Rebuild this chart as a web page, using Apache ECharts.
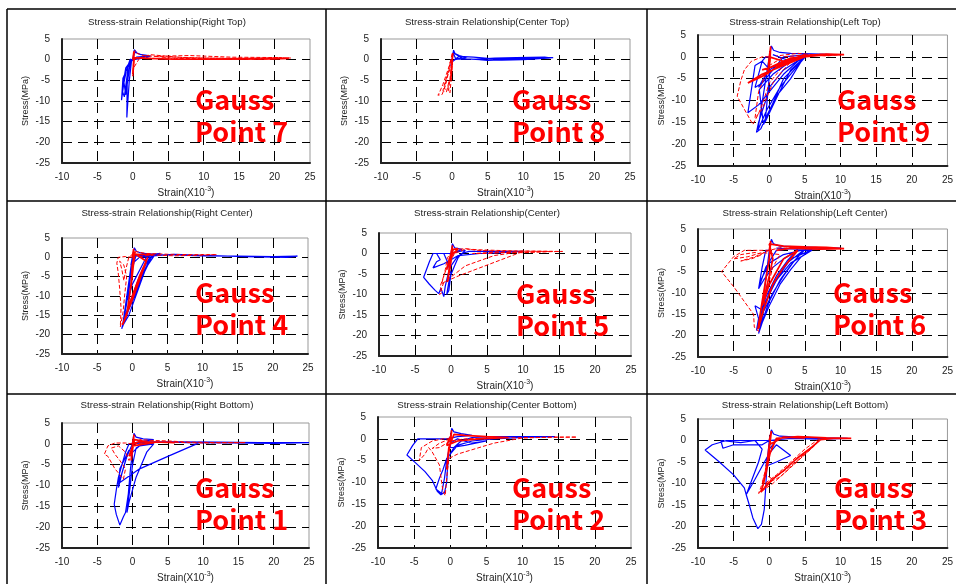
<!DOCTYPE html>
<html>
<head>
<meta charset="utf-8">
<script src="https://cdn.jsdelivr.net/npm/echarts@6/dist/echarts.min.js"></script>
<style>
  html, body { margin: 0; padding: 0; background: #fff; }
  #main { width: 956px; height: 584px; }
</style>
</head>
<body>
<div id="main"></div>
<script>
// axis ranges (strain x10^-3, stress MPa)
var strainMin = -10, strainMax = 25, strainStep = 5;
var stressMin = -25, stressMax = 5, stressStep = 5;

// Gauss point 7 - Right Top
var p7Blue = [[0,0],[0.2,2.4],[0.6,1.6],[1.2,1.2],[2,0.9],[0.8,0.5],[-0.2,0],[-1.4,-4.5],[-1.6,-9.8],[-1.3,-6],[-0.9,-2.5],[-0.4,0],[-1.1,-3.5],[-1.5,-7.5],[-1.2,-9],[-0.9,-5],[-0.6,-1],[-0.3,0.2],[-0.8,-6],[-0.85,-14],[-0.7,-10],[-0.5,-5],[-0.2,-0.5],[0.3,1.8],[1,1.3],[2.2,1],[1.5,0.6],[0,0.3],[-1,-2],[-1.3,-5],[-1,-8.5],[-0.7,-4],[-0.3,-0.5],[0.5,0.6],[2.5,0.9],[1.8,0.4],[0,0]];
var p7Red = [[0,0],[0.3,2.2],[0.6,1.5],[1.5,1],[4,0.7],[10,0.4],[16,0.3],[20,0.3],[22,0.4],[18,0.1],[12,0.2],[6,0.3],[3,0.8],[8,1],[14,0.6],[21,0.5],[15,0.2],[9,0.1],[4,0.2],[1,0.5],[0.1,-2],[0,-4],[0.1,0],[2.5,1.2],[7,0.5],[13,0.3],[19,0.4],[22.3,0.4]];
var p7RedSolid = [[0,0],[0.15,2],[0.1,-1],[0,-3.5],[0.2,0.5],[2,0.3],[6,0.1],[12,0.1],[20,0.2],[22,0.3]];

// Gauss point 8 - Center Top
var p8Blue = [[0,0],[0.2,2.3],[0.4,1.5],[1,1],[2,0.5],[0.5,0.2],[0.1,1.8],[0.6,1.2],[1.5,0.3],[0.3,0],[1,0.8],[3,0.6],[5,0.3],[7,0.2],[10,0.3],[14.2,0.5],[11,0.2],[7.5,0],[5,-0.2],[3,0.1],[6,0.4],[9,0.5],[13,0.6],[14,0.4],[10,0],[7,-0.1],[4,0],[2,0.2],[0.5,0.1],[0,-0.5],[-0.2,-1.5],[0,0]];
var p8Red = [[0,1.5],[-0.3,-1],[-0.8,-3.5],[-1.3,-6],[-1.8,-8],[-2,-8.6],[-1.4,-8.4],[-0.9,-6],[-0.5,-3],[-0.2,0],[-0.5,-2.5],[-1,-5.5],[-1.3,-7.5],[-0.8,-7.8],[-0.4,-5],[-0.6,-7],[-0.3,-8],[-0.1,-4],[0,-1],[-0.7,-4],[-1.1,-7],[-0.5,-7.5],[0,0]];
var p8RedSolid = [[0,0],[0.1,1.6],[-0.1,-2],[-0.2,-5],[0,-1],[0.05,1]];

// Gauss point 9 - Left Top
var p9Blue = [[0,0],[0.3,2.5],[0.6,1.5],[1.5,1],[3,0.8],[6,0.7],[9,0.5],[5,0.2],[2,-1],[0,-3],[-1,-5.5],[-1.5,-7],[-0.5,-5],[1,-2],[3,-0.5],[5,0.2],[2,-3],[0,-7],[-0.5,-10],[-1.5,-15],[-1.8,-17.3],[-1.2,-16.5],[-0.5,-14],[1,-9],[3,-5],[4.5,-1],[5,0],[3,-3],[1,-9.5],[-0.6,-15],[-0.4,-12],[-0.2,-8],[0.1,-3],[-1,-1],[-2,-2],[-3,-12.8],[-1.5,-11],[0,-8],[2,-4],[4,-1],[5.5,0.5],[2,0],[-1,-6],[-2,-7],[-1.5,-4],[-1,-1],[-0.5,0],[0,0],[-1.6,-16.8],[-0.3,-12],[1.5,-7],[3.5,-3],[5.2,0.3],[2,-5],[-0.8,-15.5],[-1,-13],[-1.4,-7.5],[0.5,-4],[3,-1],[0.5,0.5]];
var p9Red = [[0,0],[-1,0],[-2.5,-1],[-3.5,-3],[-4,-5.5],[-4.5,-9],[-3.5,-12],[-2.3,-15.5],[-1.5,-13],[-0.8,-10],[0,-6],[1.5,-3],[3,-0.5],[5,0.4],[2,0],[0,-2],[-1.5,-8],[-2,-14],[-1,-12],[0.5,-6],[2.5,-2],[4,0],[7,0.6],[10,0.5],[8,0.2],[4,0.8],[1,0.2]];
var p9RedSolid = [[0,0],[0.2,2.4],[0.1,-1],[-0.2,-4],[0,0],[2,-1],[4,-0.5],[5,0],[2,-2],[-1,-4],[-3,-6],[-1,-4.5],[1.5,-2],[5,0.3],[8,0.6],[10.5,0.5],[7,0.3],[3,-0.3],[0,-2.5],[-1,-3],[2,-1.5],[5,0.5]];

// Gauss point 4 - Right Center
var p4Blue = [[0,0],[0.3,2.5],[0.6,1.5],[1.5,1],[3.5,0.8],[4,1],[2,0.6],[0.5,0.3],[-0.3,-5],[-0.8,-12],[-1.2,-16],[-1.5,-18.5],[-0.8,-14],[0,-10],[1,-5],[2,-1.5],[2.6,0.3],[1.5,-3],[0.5,-8],[-0.5,-13],[-1.3,-17.5],[-0.5,-15],[0.5,-10],[1.5,-5],[2.3,-1],[3,0.5],[2,0],[0,-7],[-0.6,-11],[-0.2,-4],[0.1,0.5],[2,0.7],[6,0.6],[10,0.4],[15,0.3],[20,0.2],[23.5,0.3],[22,0],[16,0.2],[10,0.5],[6,0.8],[3,0.4],[1,0],[-0.2,-2],[0,0],[-1.4,-18],[-0.5,-13.5],[0.8,-8],[1.8,-3.5],[2.8,0.2],[1.5,-4],[0.2,-9.5],[-1,-16],[-0.3,-12],[1,-6.5],[2.2,-2],[3.2,0.6],[1,0.3]];
var p4Red = [[0,0],[-1,0.2],[-2,0],[-2.2,-1.5],[-2,-4],[-1.8,-8],[-1.6,-13],[-1.7,-18],[-1.3,-14],[-1.1,-10],[-0.8,-5],[-1.2,-2],[-1.8,-1],[-1.5,-3],[-1.2,-6],[-0.9,-3],[-0.5,0],[0.5,1.5],[2,1],[5,0.8],[8,0.7],[12,0.7],[9,0.5],[6,0.4],[3,0.6],[1,0.2]];
var p4RedSolid = [[0,0],[0.2,2.2],[0.1,-3],[-0.2,-8],[0,-2],[0.4,1.5],[-0.4,-10],[-0.8,-15],[-1.4,-17.5],[-0.5,-13],[0.5,-8],[1.5,-3],[2.2,0],[1,-5],[0,-10],[-1,-15.5],[0,-11],[1.2,-5],[2,-1],[0.5,0.8],[3,0.7]];

// Gauss point 5 - Center
var p5Blue = [[0,0],[0.2,2.4],[0.5,1.4],[1.5,1],[0.8,0.5],[0,0],[-1,0],[-2.5,0],[-3,-2],[-3.8,-5.8],[-3,-7.5],[-2.2,-9],[-1.7,-9.8],[-1.4,-8.5],[-1,-10.5],[-0.8,-8],[-0.4,-5],[0,-3],[0.8,-1],[1.5,0],[2.5,0.5],[5,0.5],[8,0.5],[10,0.5],[7,0.2],[4,0],[1,-0.5],[0,-1.5],[-1,-2.5],[-2.5,-3.5],[-2,-2],[-1.5,-1.5],[-2,0],[-1,0],[-0.5,-2],[0,-5],[-0.3,-9],[-0.6,-10],[-0.2,-6],[0.5,-3],[1,-1],[2,0.8],[0,0]];
var p5Red = [[0,-1],[1,1],[2,1.2],[3.5,0.8],[6,0.6],[10,0.6],[15.5,0.5],[12,0.4],[8,0.3],[5,0],[3,0],[6,0.3],[10,0.2],[14,0.5],[9,0.6],[4,0.9],[2,1.1],[0.5,0],[-0.5,-3],[-1,-5.5],[-1.5,-8],[-1.2,-9.5],[-1.6,-10],[-1,-7],[1,-5.5],[4,-3.5],[7,-1.5],[10,0.5],[6,-0.5],[2,-3],[-1.3,-7.5],[-0.8,-4],[-0.5,-1],[0,0]];
var p5RedSolid = [[0,0],[0.2,2],[0,-2],[-0.3,-5],[-0.5,-7],[-0.2,-3],[0.3,1],[1,1.2],[-0.2,-1],[-0.6,-4],[0,0]];

// Gauss point 6 - Left Center
var p6Blue = [[0,0],[0.3,2.6],[0.6,1.5],[1.5,1],[4,0.8],[8,0.6],[10,0.5],[6,0.3],[3,0.4],[1,0],[-0.5,-4],[-1.5,-9],[-0.8,-7],[0.5,-4],[2,-2],[4,0],[6,0],[3,-3],[1,-7],[-0.5,-12],[-1.5,-19.5],[-1,-17],[0,-13],[1.5,-8],[3,-4.5],[4.5,-1.5],[5.8,0],[3,-2],[0.5,-8],[-1,-14],[-2,-13],[-1.5,-16],[-1.8,-18.8],[-1,-15],[0.5,-10],[2,-6],[3.5,-2.5],[5,0.2],[2,-1],[0,-3],[-1.2,-7],[-1.5,-9],[-1,-4],[-0.5,0],[0,0],[-1.3,-18],[0,-12],[1.5,-7],[3,-3.5],[4.8,0],[2.5,-3],[0.3,-9],[-1.6,-17],[-0.5,-11],[1,-6],[2.5,-2.5],[4,0.3],[1,0.5]];
var p6Red = [[0,0],[-2,0],[-3.5,0],[-5,-1.5],[-6.7,-5],[-5,-8.5],[-3.5,-12],[-2.2,-15],[-2.1,-18],[-1.5,-19],[-1,-15],[-0.3,-9],[0.5,-4],[1.5,-1],[-1,-0.5],[-3,-1.5],[-5,-2],[-4,-1],[-2,-0.5],[-1,-1],[-2.5,-2],[-4,-2.5],[-2,-1.5],[0,0],[2,0.8],[5,0.6],[8,0.5]];
var p6RedSolid = [[0,0],[0.2,2.2],[0,-2],[-0.5,-7],[-1,-12],[-1.6,-18.5],[-0.8,-14],[0.5,-8],[2,-4],[3.5,-1],[4,0],[2,-2],[0,-8],[-1,-13],[0,-6],[0.5,-2],[0,1.5],[2,1],[5,0.8],[8,0.7],[10.5,0.4],[7,0.3],[3,0.5],[1,0]];

// Gauss point 1 - Right Bottom
var p1Blue = [[0,0],[0.2,2.5],[0.5,1.6],[1.5,1.2],[3,1],[1,0.5],[-0.5,0],[-1,-2],[-1.5,-5],[-2,-8],[-2.3,-11],[-2.6,-14.5],[-2.3,-17],[-1.8,-19.5],[-1.3,-17.5],[-1,-16.5],[-0.6,-12],[-0.3,-6],[0,-2],[1,-0.5],[3,0],[2,-2],[0.5,-8],[-0.5,-14],[-0.8,-16.5],[-0.4,-11],[0,-5],[0.5,-1],[1.5,0],[4,0.5],[9.5,0.3],[5,-3],[1,-6],[-2,-9.5],[-1.5,-7],[-1,-4],[-0.5,-1.5],[-1.8,-6],[-2,-10.5],[-1.5,-7],[-0.8,-3],[0,0],[2,0.5],[6,0.5],[12,0.4],[18,0.3],[25,0.3],[20,0.1],[14,0.2],[8,0.3],[3,0.5],[0,0]];
var p1Red = [[0,0],[-1,0.2],[-2.5,0.2],[-3.5,-0.5],[-4,-2.5],[-3.5,-3],[-3,-4.5],[-2.5,-6],[-2,-7],[-1.3,-8.5],[-1,-6],[-1.8,-4],[-2.5,-2.5],[-3,-1],[-2,-0.5],[-1,-2],[-0.5,-4],[0,-1],[1,1],[3,0.8],[5,0.7],[8,0.4],[12,0.3],[16,0.3],[10,0.2],[5,0.4],[2,0.2],[0,0]];
var p1RedSolid = [[0,0],[0.2,2.2],[0,-1.5],[-0.2,-4],[0,0],[1,0.5],[3,0.3],[0,-0.5],[-0.5,-3],[0.3,1],[2,0.5],[6,0.3]];

// Gauss point 2 - Center Bottom
var p2Blue = [[0,0],[0.2,2.4],[0.5,1.6],[1.5,1.2],[3,0.8],[1,0.5],[-0.5,0],[-2,0],[-4.5,0],[-5.2,-1.5],[-6,-3.7],[-4.8,-5.5],[-3.5,-7.5],[-2.5,-9.5],[-1.8,-12],[-1.3,-12.8],[-0.8,-12.3],[-0.5,-10],[-0.4,-7],[-0.2,-4],[0.5,-2],[1.5,-0.5],[3,0.3],[6,0.5],[10,0.5],[14.5,0.5],[10,0.3],[6,0],[3,-0.5],[1,-1.5],[-0.5,-4.5],[-1,-7],[-1.5,-9],[-2,-11.5],[-1.2,-12.5],[-0.8,-9],[-0.5,-5],[0,-1],[1,0],[3,-1],[5,-0.5],[2,-1.5],[0,-2],[0,0]];
var p2Red = [[0,0],[-1,0],[-2.5,-0.5],[-4,-2],[-4.3,-5],[-3.5,-3.5],[-3,-2],[-2.5,-3],[-1.5,-6],[-1.2,-10],[-1,-12],[-0.7,-13],[-0.5,-9],[-0.2,-4.5],[1,-3.5],[3,-2.5],[6,-1],[10,0.2],[14,0.4],[17.5,0.4],[12,0.3],[6,0.2],[2,0],[0,-0.5],[-1.5,-2],[-2.5,-2.2],[-1.5,-1],[0,0]];
var p2RedSolid = [[0,0],[0.2,2],[0,-1],[-0.3,-4],[-0.5,-7],[-0.2,-2],[0.5,1],[2,0.8],[5,0.5],[8,0.3],[4,0],[1,-0.5],[-0.5,-1.5],[0,0.5]];

// Gauss point 3 - Left Bottom
var p3Blue = [[0,0],[0.3,2.5],[0.6,1.5],[1.5,1],[4,0.8],[7,0.6],[11,0.5],[7,0.3],[3,0.5],[0,0],[-2,0],[-4,0],[-6,0],[-8,-1],[-9,-2.2],[-7,-5],[-5,-8],[-3.5,-11],[-3.2,-12.8],[-2.8,-15],[-2.3,-18],[-1.6,-20.5],[-1.1,-19.5],[-0.7,-16],[-0.5,-11],[-0.3,-5],[0,0],[-1,-1],[-3,-1],[-5,-1],[-6.5,-1.8],[-6.8,0],[-4,-0.5],[-2,0],[-1,-2],[-1.5,-5],[-3.2,-12.5],[-2,-9],[-1,-6],[0,-3],[1,-1],[3,-3.5],[1,-5],[-0.5,-6],[0,-2],[1,0],[0,0]];
var p3Red = [[0,0],[0.5,-1],[-0.3,-5],[-0.8,-9],[-1.2,-11],[-1.5,-12.3],[0.5,-10],[2.5,-7],[4.5,-4],[6.5,-1],[7,0.4],[5,-2],[3,-5],[1,-8],[-1,-10.5],[1.5,-8.5],[3.5,-5.5],[5.5,-2.5],[7,0],[6,-1.5],[3,-6],[0,-9.5],[-1,-11.5],[0.5,-9],[-0.5,-8],[-1,-10],[0,-3],[0,0]];
var p3RedSolid = [[0,0],[0.3,2.2],[0,-2],[-0.3,-6],[-0.8,-10],[-1.2,-12],[0.5,-9],[2,-7],[4,-4],[6,-1.5],[7.2,0.2],[9,0.5],[11.5,0.5],[8,0.6],[4,0.9],[1,0.5],[0.1,-3],[-0.5,-8],[0,-1],[2,0.8],[5,0.6]];

// panel layout: plot area, title centre, label position
var panels = [
    { gp: 7, name: 'Right Top',     blue: p7Blue, red: p7Red, redSolid: p7RedSolid, grid: [62, 39, 248, 124],  tx: 167, ty: 22,  lx: 195, ly: 84 },
    { gp: 8, name: 'Center Top',    blue: p8Blue, red: p8Red, redSolid: p8RedSolid, grid: [381, 39, 249, 124], tx: 487, ty: 22,  lx: 512, ly: 84 },
    { gp: 9, name: 'Left Top',      blue: p9Blue, red: p9Red, redSolid: p9RedSolid, grid: [698, 35, 251, 131], tx: 805, ty: 22,  lx: 837, ly: 84 },
    { gp: 4, name: 'Right Center',  blue: p4Blue, red: p4Red, redSolid: p4RedSolid, grid: [62, 238, 246, 116], tx: 167, ty: 213, lx: 195, ly: 277 },
    { gp: 5, name: 'Center',        blue: p5Blue, red: p5Red, redSolid: p5RedSolid, grid: [379, 233, 252, 123], tx: 487, ty: 213, lx: 516, ly: 278 },
    { gp: 6, name: 'Left Center',   blue: p6Blue, red: p6Red, redSolid: p6RedSolid, grid: [698, 229, 251, 128], tx: 805, ty: 213, lx: 833, ly: 277 },
    { gp: 1, name: 'Right Bottom',  blue: p1Blue, red: p1Red, redSolid: p1RedSolid, grid: [62, 423, 247, 128], tx: 167, ty: 405, lx: 195, ly: 472 },
    { gp: 2, name: 'Center Bottom', blue: p2Blue, red: p2Red, redSolid: p2RedSolid, grid: [378, 417, 253, 134], tx: 487, ty: 405, lx: 512, ly: 472 },
    { gp: 3, name: 'Left Bottom',   blue: p3Blue, red: p3Red, redSolid: p3RedSolid, grid: [698, 419, 251, 132], tx: 805, ty: 405, lx: 834, ly: 472 }
];

var font = 'Liberation Sans';
var grids = [], xAxes = [], yAxes = [], series = [], graphics = [];

// table lines round the panels
[9, 201, 394].forEach(function (y) {
    graphics.push({ type: 'line', shape: { x1: 7, y1: y, x2: 956, y2: y }, style: { stroke: '#000', lineWidth: 1.5 } });
});
[7, 326, 647].forEach(function (x) {
    graphics.push({ type: 'line', shape: { x1: x, y1: 9, x2: x, y2: 584 }, style: { stroke: '#000', lineWidth: 1.5 } });
});

panels.forEach(function (p, i) {
    grids.push({ left: p.grid[0], top: p.grid[1], width: p.grid[2], height: p.grid[3],
        show: true, borderColor: '#999', borderWidth: 1, backgroundColor: '#fff' });

    xAxes.push({
        gridIndex: i, type: 'value', min: strainMin, max: strainMax, interval: strainStep,
        name: 'Strain(X10{sup|-3})', nameLocation: 'middle', nameGap: 23,
        nameTextStyle: { color: '#222', fontSize: 10, fontFamily: font,
            rich: { sup: { fontSize: 7, fontFamily: font, color: '#222', padding: [0, 0, 7, 0] } } },
        axisLine: { onZero: false, lineStyle: { color: '#222', width: 2 } },
        axisTick: { show: false },
        axisLabel: { color: '#222', fontSize: 10, fontFamily: font, margin: 9 },
        splitLine: { show: true, showMinLine: false, showMaxLine: false,
            lineStyle: { color: '#000', width: 1, type: [10, 6] } }
    });
    yAxes.push({
        gridIndex: i, type: 'value', min: stressMin, max: stressMax, interval: stressStep,
        name: 'Stress(MPa)', nameLocation: 'middle', nameGap: 32,
        nameTextStyle: { color: '#222', fontSize: 9, fontFamily: font },
        axisLine: { onZero: false, lineStyle: { color: '#222', width: 2 } },
        axisTick: { show: false },
        axisLabel: { color: '#222', fontSize: 10, fontFamily: font, margin: 12 },
        splitLine: { show: true, showMinLine: false, showMaxLine: false,
            lineStyle: { color: '#000', width: 1, type: [10, 6] } }
    });

    series.push({ type: 'line', xAxisIndex: i, yAxisIndex: i, data: p.blue, showSymbol: false,
        lineStyle: { color: '#0000ff', width: 1.2 } });
    series.push({ type: 'line', xAxisIndex: i, yAxisIndex: i, data: p.red, showSymbol: false,
        lineStyle: { color: '#ff0000', width: 1, type: [4, 2] } });
    series.push({ type: 'line', xAxisIndex: i, yAxisIndex: i, data: p.redSolid, showSymbol: false,
        lineStyle: { color: '#ff0000', width: 1.7 } });

    graphics.push({ type: 'text', x: p.tx, y: p.ty, z: 10,
        style: { text: 'Stress-strain Relationship(' + p.name + ')', fill: '#222',
            font: '9.7px "' + font + '"', textAlign: 'center', textVerticalAlign: 'middle' } });
    graphics.push({ type: 'text', x: p.lx, y: p.ly, z: 10,
        style: { text: 'Gauss\nPoint ' + p.gp, fill: '#ff0000', lineHeight: 32,
            font: 'bold 27px "Noto Sans CJK JP"', textAlign: 'left', textVerticalAlign: 'top' } });
});

var myChart = echarts.init(document.getElementById('main'));
myChart.setOption({
    animation: false,
    backgroundColor: '#fff',
    grid: grids,
    xAxis: xAxes,
    yAxis: yAxes,
    series: series,
    graphic: graphics
});
</script>
</body>
</html>
